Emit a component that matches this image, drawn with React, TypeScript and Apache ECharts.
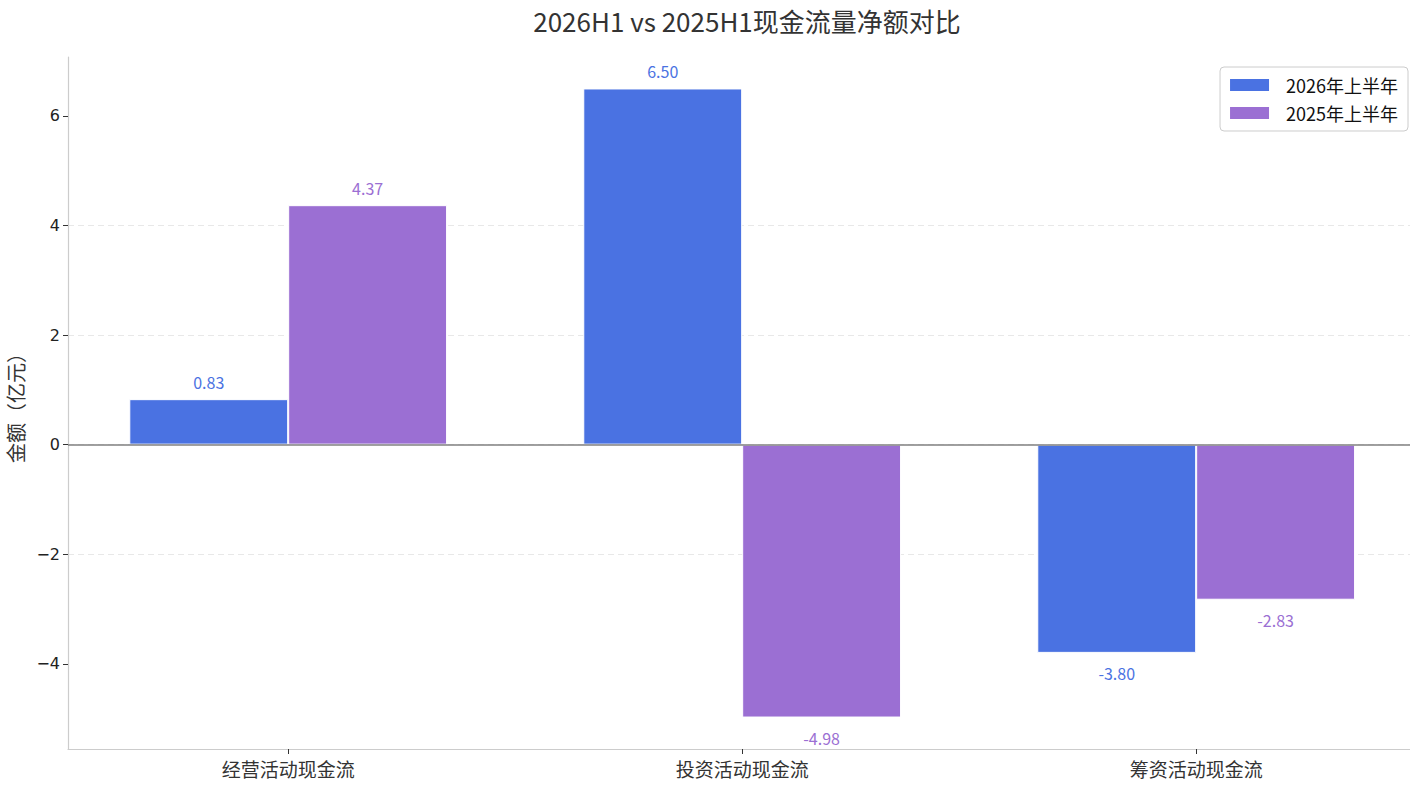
import React, { useEffect, useRef } from "react";
import * as echarts from "echarts";

const categories = ["经营活动现金流", "投资活动现金流", "筹资活动现金流"];
const seriesNames = ["2026年上半年", "2025年上半年"];
const values2026 = [0.83, 6.5, -3.8];
const values2025 = [4.37, -4.98, -2.83];
const yTicks = [-4, -2, 0, 2, 4, 6];
const colors = ["#4A72E2", "#9B6FD3"];
const labelColors = ["#4A72E2", "#9B6FD3"];

const CJK = "'Noto Sans CJK SC', 'Noto Sans', sans-serif";

function makeSeries(name: string, vals: number[], idx: number) {
  return {
    name,
    type: "bar",
    barWidth: "35%",
    barGap: "0%",
    itemStyle: { color: colors[idx], borderColor: "#ffffff", borderWidth: 1 },
    data: vals.map((v, i) => ({
      value: [i, v],
      label: {
        show: true,
        position: v >= 0 ? "top" : "bottom",
        distance: v >= 0 ? 9 : 12,
        formatter: () => v.toFixed(2),
        color: labelColors[idx],
        fontSize: 16,
        fontFamily: CJK,
      },
    })),
    z: 2,
    ...(idx === 0
      ? {
          markLine: {
            silent: true,
            symbol: "none",
            label: { show: false },
            lineStyle: { color: "#808080", width: 1.5, type: "solid" },
            data: [{ yAxis: 0 }],
            z: 5,
          },
        }
      : {}),
  };
}

export default function App() {
  const ref = useRef<HTMLDivElement>(null);
  useEffect(() => {
    document.body.style.margin = "0";
    const chart = echarts.init(ref.current!, undefined, { renderer: "svg" });
    chart.setOption({
      animation: false,
      backgroundColor: "#ffffff",
      title: {
        text: "2026H1 vs 2025H1现金流量净额对比",
        left: 742,
        textAlign: "center",
        top: 2,
        textStyle: { fontSize: 26, fontWeight: "normal", color: "#333333", fontFamily: CJK },
      },
      legend: {
        orient: "vertical",
        right: 2,
        top: 67,
        itemWidth: 41,
        itemHeight: 14,
        itemGap: 10,
        padding: [9, 10, 9, 8],
        borderColor: "#cccccc",
        borderWidth: 1,
        borderRadius: 4,
        backgroundColor: "#ffffff",
        icon: "rect",
        textStyle: { fontSize: 18, color: "#111111", fontFamily: CJK, padding: [0, 0, 0, 11] },
        data: seriesNames,
      },
      grid: { left: 68, right: 0, top: 57, bottom: 41, containLabel: false, outerBoundsMode: "none" },
      xAxis: {
        type: "value",
        min: -0.485,
        max: 2.471,
        axisLine: { show: true, onZero: false, lineStyle: { color: "#cccccc", width: 1.2 } },
        axisTick: { show: true, customValues: [0, 1, 2], length: 5, lineStyle: { color: "#333333" } },
        axisLabel: {
          customValues: [0, 1, 2],
          formatter: (v: number) => categories[Math.round(v)] ?? "",
          fontSize: 19,
          color: "#333333",
          fontFamily: CJK,
          margin: 10,
        },
        splitLine: { show: false },
      },
      yAxis: {
        type: "value",
        min: -5.554,
        max: 7.074,
        splitNumber: 6,
        name: "金额（亿元）",
        nameLocation: "middle",
        nameGap: 43,
        nameTextStyle: { fontSize: 20, color: "#333333", fontFamily: CJK },
        axisLine: { show: true, onZero: false, lineStyle: { color: "#cccccc", width: 1.2 } },
        axisTick: { show: true, customValues: yTicks, length: 5, lineStyle: { color: "#333333" } },
        axisLabel: {
          customValues: yTicks,
          formatter: (v: number) => (v < 0 ? "\u2212" + Math.abs(v) : String(v)),
          fontSize: 16,
          color: "#222222",
          fontFamily: "'DejaVu Sans', sans-serif",
          margin: 8,
        },
        splitLine: {
          show: true,
          showMinLine: false,
          showMaxLine: false,
          lineStyle: { color: "#e8e8e8", type: [6, 4], width: 1 },
        },
      },
      series: [makeSeries(seriesNames[0], values2026, 0), makeSeries(seriesNames[1], values2025, 1)],
    });
    return () => chart.dispose();
  }, []);
  return <div ref={ref} style={{ width: 1410, height: 790 }} />;
}
